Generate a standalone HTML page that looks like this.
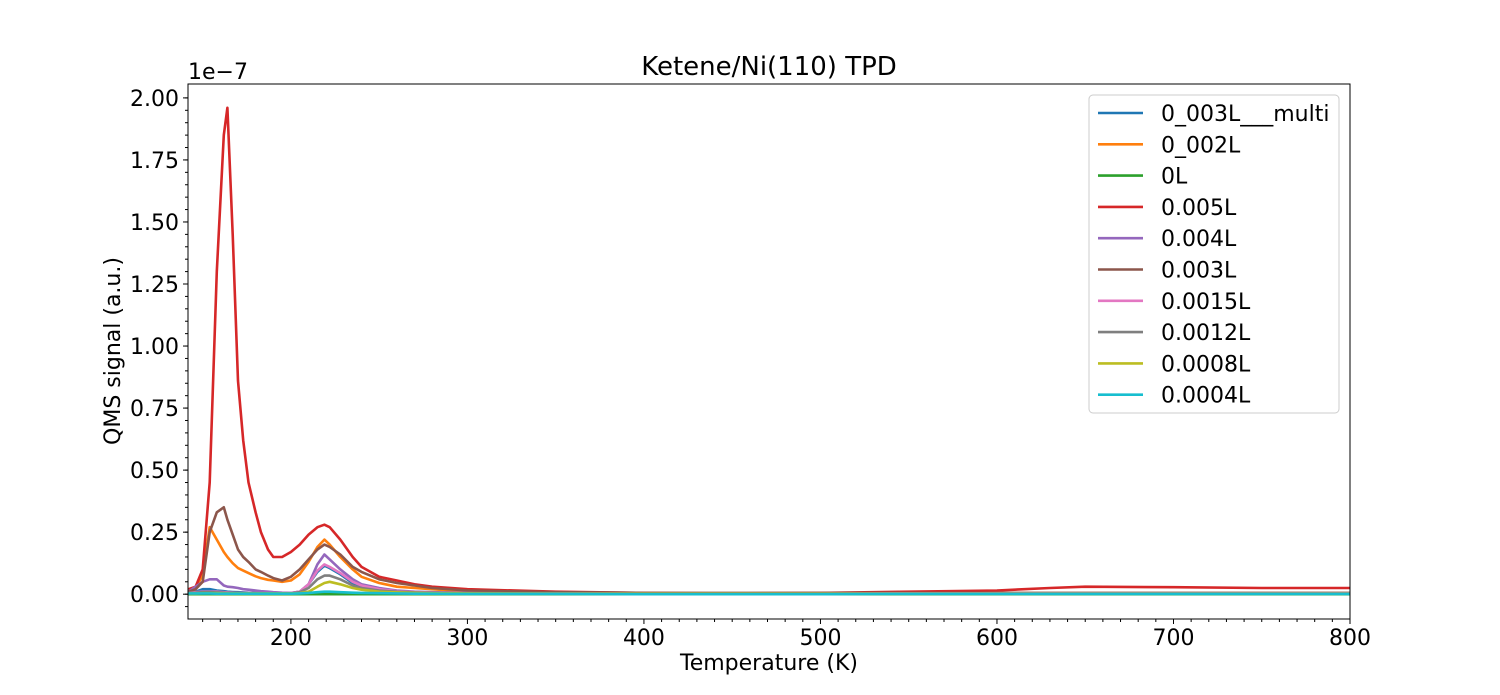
<!DOCTYPE html>
<html><head><meta charset="utf-8"><style>
body{margin:0;background:#fff;}
svg{display:block;font-family:"DejaVu Sans","Liberation Sans",sans-serif;}
</style></head><body>
<svg id="chart" width="1500" height="695"></svg>
<script>
const temps=[142,146,150,154,158,162,164,167,170,173,176,180,183,187,190,195,200,205,210,215,219,222,228,235,240,250,260,270,280,300,350,400,450,500,550,600,630,650,700,750,800];
const seriesNames=["0_003L___multi","0_002L","0L","0.005L","0.004L","0.003L","0.0015L","0.0012L","0.0008L","0.0004L"];
const seriesColors=["#1f77b4","#ff7f0e","#2ca02c","#d62728","#9467bd","#8c564b","#e377c2","#7f7f7f","#bcbd22","#17becf"];
const sBlue=[0.005,0.01,0.02,0.02,0.015,0.012,0.01,0.009,0.008,0.007,0.006,0.005,0.005,0.004,0.004,0.004,0.004,0.01,0.04,0.09,0.115,0.105,0.08,0.045,0.03,0.015,0.01,0.008,0.006,0.004,0.003,0.002,0.002,0.002,0.003,0.003,0.003,0.003,0.003,0.003,0.003];
const sOrange=[0.01,0.02,0.08,0.27,0.22,0.17,0.15,0.125,0.105,0.095,0.085,0.072,0.065,0.058,0.055,0.05,0.055,0.08,0.13,0.19,0.22,0.2,0.15,0.1,0.07,0.045,0.03,0.025,0.02,0.01,0.006,0.004,0.003,0.003,0.004,0.004,0.004,0.004,0.004,0.004,0.004];
const sGreen=[0,0,0,0,0,0,0,0,0,0,0,0,0,0,0,0,0,0,0,0,0,0,0,0,0,0,0,0,0,0,0,0,0,0,0,0,0,0,0,0,0];
const sRed=[0.02,0.03,0.1,0.45,1.3,1.85,1.96,1.45,0.86,0.62,0.45,0.33,0.25,0.18,0.15,0.15,0.17,0.2,0.24,0.27,0.28,0.27,0.22,0.15,0.11,0.07,0.055,0.04,0.03,0.02,0.01,0.005,0.003,0.005,0.01,0.015,0.025,0.03,0.028,0.025,0.025];
const sPurple=[0.01,0.03,0.05,0.06,0.06,0.035,0.03,0.028,0.025,0.02,0.018,0.015,0.012,0.01,0.008,0.006,0.005,0.01,0.04,0.12,0.16,0.14,0.1,0.06,0.04,0.025,0.015,0.01,0.008,0.005,0.003,0.003,0.003,0.003,0.003,0.003,0.003,0.003,0.003,0.003,0.003];
const sBrown=[0.01,0.02,0.05,0.25,0.33,0.35,0.3,0.24,0.18,0.15,0.13,0.1,0.09,0.075,0.065,0.055,0.07,0.1,0.14,0.18,0.2,0.19,0.16,0.11,0.09,0.06,0.045,0.035,0.025,0.015,0.008,0.005,0.005,0.005,0.005,0.005,0.005,0.005,0.005,0.005,0.005];
const sPink=[0.005,0.008,0.01,0.01,0.01,0.008,0.007,0.006,0.005,0.005,0.005,0.004,0.004,0.004,0.004,0.004,0.004,0.01,0.04,0.095,0.12,0.11,0.085,0.05,0.035,0.02,0.012,0.008,0.006,0.004,0.003,0.002,0.002,0.002,0.003,0.003,0.003,0.003,0.003,0.003,0.003];
const sGray=[0.005,0.006,0.008,0.008,0.007,0.006,0.005,0.005,0.005,0.004,0.004,0.004,0.004,0.003,0.003,0.003,0.003,0.008,0.025,0.06,0.075,0.075,0.06,0.035,0.025,0.015,0.01,0.007,0.005,0.004,0.003,0.002,0.002,0.002,0.002,0.002,0.002,0.002,0.002,0.002,0.002];
const sOlive=[0.003,0.003,0.004,0.004,0.004,0.003,0.003,0.003,0.003,0.003,0.003,0.003,0.003,0.003,0.003,0.003,0.003,0.004,0.01,0.03,0.045,0.05,0.04,0.025,0.018,0.01,0.007,0.005,0.004,0.003,0.002,0.002,0.002,0.002,0.002,0.002,0.002,0.002,0.002,0.002,0.002];
const sCyan=[0.003,0.003,0.003,0.003,0.002,0.002,0.002,0.002,0.002,0.002,0.002,0.002,0.002,0.002,0.002,0.002,0.002,0.003,0.005,0.008,0.01,0.01,0.008,0.006,0.005,0.004,0.003,0.002,0.002,0.001,0.001,0.0,0.0,0.0,0.001,0.001,0.001,0.001,0.001,0.001,0.001];
const allSeries=[sBlue,sOrange,sGreen,sRed,sPurple,sBrown,sPink,sGray,sOlive,sCyan];
const xTicks=[200,300,400,500,600,700,800];
const yTicks=[0,0.25,0.5,0.75,1.0,1.25,1.5,1.75,2.0];

const L=188,R=1350,T=84,B=619;
const xMin=141.7,xMax=800,yMin=-0.1,yMax=2.056;
const xs=v=>L+(v-xMin)/(xMax-xMin)*(R-L);
const ys=v=>B-(v-yMin)/(yMax-yMin)*(B-T);
const svg=document.getElementById('chart');
const NS="http://www.w3.org/2000/svg";
function mk(tag,attrs,txt){const e=document.createElementNS(NS,tag);for(const k in attrs)e.setAttribute(k,attrs[k]);if(txt!==undefined)e.textContent=txt;svg.appendChild(e);return e;}

const clip=document.createElementNS(NS,'clipPath');clip.setAttribute('id','pc');
const cr=document.createElementNS(NS,'rect');cr.setAttribute('x',L);cr.setAttribute('y',T);cr.setAttribute('width',R-L);cr.setAttribute('height',B-T);clip.appendChild(cr);svg.appendChild(clip);

allSeries.forEach((s,i)=>{
  const d=s.map((v,j)=>(j?'L':'M')+xs(temps[j]).toFixed(1)+' '+ys(v).toFixed(1)).join(' ');
  const p=mk('path',{d:d,fill:'none',stroke:seriesColors[i],'stroke-width':2.6,'stroke-linejoin':'round','clip-path':'url(#pc)'});
  
  
});

const frame=mk('rect',{x:L,y:T,width:R-L,height:B-T,fill:'none',stroke:'#000','stroke-width':1});



xTicks.forEach(v=>{
  const x=xs(v);
  mk('line',{x1:x,y1:B,x2:x,y2:B+5,stroke:'#000'});
  const t=mk('text',{x:x,y:B+26,'text-anchor':'middle','font-size':22},String(v));
  
  
});
for(let v=150;v<=800;v+=10){if(v%100===0)continue;const x=xs(v);mk('line',{x1:x,y1:B,x2:x,y2:B+3,stroke:'#000'});}
yTicks.forEach(v=>{
  const y=ys(v);
  mk('line',{x1:L-5,y1:y,x2:L,y2:y,stroke:'#000'});
  const t=mk('text',{x:L-9,y:y+8,'text-anchor':'end','font-size':22},v.toFixed(2));
  
  
});
for(let v=-0.05;v<=2.05;v+=0.05){const y=ys(v);if(y<T||y>B)continue;mk('line',{x1:L-3,y1:y,x2:L,y2:y,stroke:'#000'});}

let e;
e=mk('text',{x:188,y:79,'font-size':22},'1e\u22127');
e=mk('text',{x:769,y:75,'text-anchor':'middle','font-size':26},'Ketene/Ni(110) TPD');
e=mk('text',{x:769,y:670,'text-anchor':'middle','font-size':22},'Temperature (K)');
e=mk('text',{x:0,y:0,'text-anchor':'middle','font-size':22,transform:'translate(120,351) rotate(-90)'},'QMS signal (a.u.)');

e=mk('rect',{x:1089,y:95,width:250,height:318,rx:4,fill:'#fff','fill-opacity':0.8,stroke:'#ccc'});

seriesNames.forEach((n,i)=>{
  const y=113+i*31.3;
  mk('line',{x1:1098,y1:y,x2:1143,y2:y,stroke:seriesColors[i],'stroke-width':2.6});
  const t=mk('text',{x:1161,y:y+8,'font-size':22},n);
  
  
});
</script>
</body></html>
